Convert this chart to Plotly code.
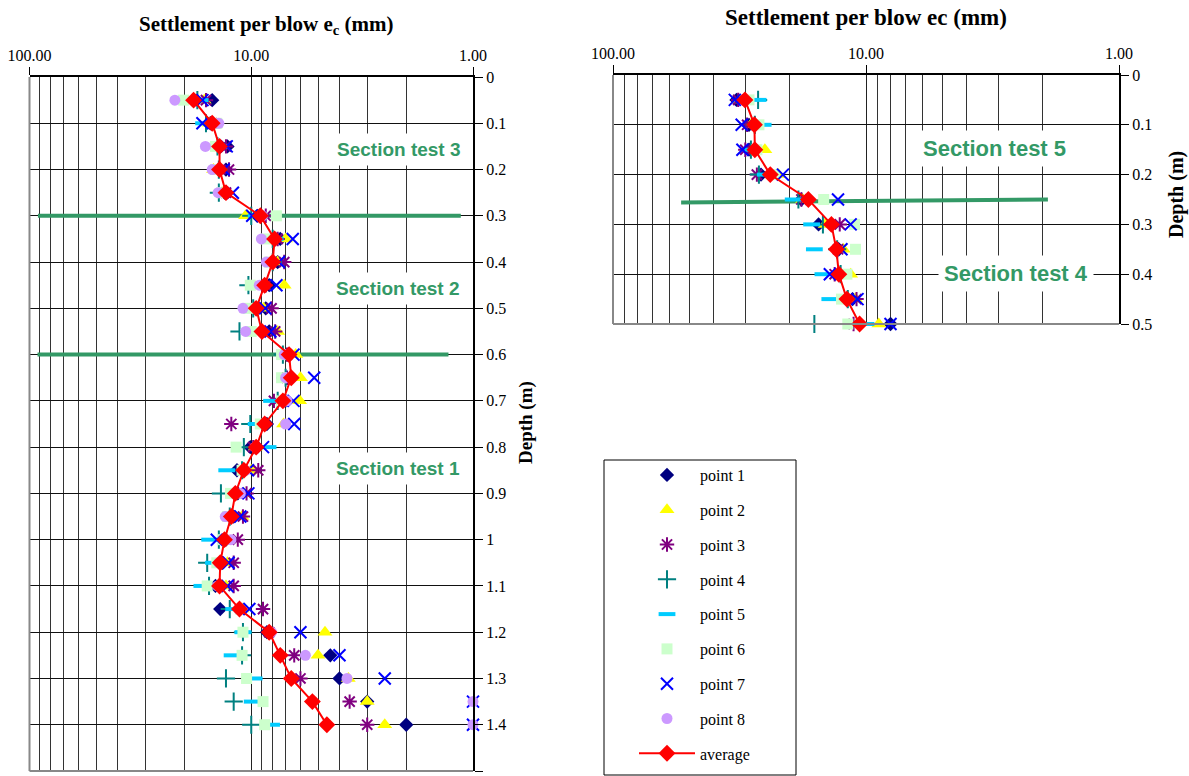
import plotly.graph_objects as go

W, H = 1189, 776

# ---------------- data ----------------
series_names = ["point 1", "point 2", "point 3", "point 4", "point 5", "point 6", "point 7", "point 8"]

depth_left = [0.05, 0.10, 0.15, 0.20, 0.25, 0.30, 0.35, 0.40, 0.45, 0.50, 0.55, 0.60, 0.65, 0.70,
              0.75, 0.80, 0.85, 0.90, 0.95, 1.00, 1.05, 1.10, 1.15, 1.20, 1.25, 1.30, 1.35, 1.40]

p1_left = [15.0, 15.3, 12.8, 13.0, 13.2, 9.4, 7.4, 7.6, 8.3, 8.6, 8.3, 6.8, 6.6, 7.0,
           8.5, 10.1, 11.6, 11.5, 12.0, 13.0, 13.5, 14.5, 13.8, 8.5, 4.4, 4.0, 3.0, 2.0]
p2_left = [16.3, 15.5, 14.0, 14.8, 13.5, 10.6, 7.0, 7.6, 7.1, 8.8, 7.6, 6.3, 6.0, 6.05,
           7.15, 9.6, 10.0, 10.8, 11.0, 13.2, 12.8, 13.0, 11.0, 4.65, 5.0, 3.65, 3.0, 2.5]
p3_left = [16.0, 15.0, 13.0, 12.6, 13.0, 8.6, 7.6, 7.1, 8.6, 8.1, 7.8, 6.9, 6.9, 7.9,
           12.3, 9.8, 9.3, 10.5, 10.9, 11.5, 12.0, 12.0, 8.85, 8.3, 6.4, 6.0, 3.6, 3.0]
p4_left = [17.5, 16.0, 14.2, 14.0, 14.0, 10.0, 8.0, 8.0, 10.3, 9.8, 11.3, 7.2, 7.0, 7.6,
           10.1, 10.8, 11.0, 13.7, 12.5, 14.0, 15.8, 15.5, 12.5, 10.9, 11.0, 13.0, 12.0, 10.0]
p5_left = [17.0, 16.4, 14.0, 14.2, 13.5, 9.5, 7.8, 8.0, 9.0, 9.6, 9.9, 6.9, 6.8, 8.1,
           9.5, 8.4, 12.9, 12.0, 12.5, 15.4, 14.8, 16.7, 12.0, 10.9, 12.2, 9.7, 9.9, 8.1]
p6_left = [20.2, 14.3, 14.5, 14.5, 13.6, 7.7, 8.6, 8.3, 10.1, 10.3, 10.0, 7.3, 7.3, 7.3,
           9.1, 11.7, 11.0, 12.4, 12.8, 13.5, 14.3, 15.8, 11.2, 10.9, 11.0, 10.5, 8.85, 8.7]
p7_left = [16.6, 16.6, 12.9, 13.3, 12.1, 9.9, 6.5, 7.5, 7.7, 8.65, 8.2, 6.45, 5.2, 6.45,
           6.4, 8.85, 10.35, 10.3, 11.2, 14.3, 12.65, 12.8, 10.2, 6.0, 4.0, 2.5, 1.0, 1.0]
p8_left = [22.1, 14.0, 16.1, 15.0, 14.1, 8.9, 9.0, 8.55, 9.2, 10.9, 10.6, 7.1, 7.0, 6.9,
           7.0, 9.6, 10.6, 11.2, 13.1, 12.35, 14.0, 14.2, 11.4, 8.1, 5.7, 3.7, 1.0, 1.0]
avg_left = [18.2, 15.0, 13.9, 13.9, 13.0, 9.1, 7.85, 8.0, 8.7, 9.5, 8.95, 6.75, 6.6, 7.2,
            8.7, 9.5, 10.8, 11.8, 12.3, 13.2, 13.8, 13.9, 11.3, 8.3, 7.4, 6.6, 5.3, 4.56]

depth_right = [0.05, 0.10, 0.15, 0.20, 0.25, 0.30, 0.35, 0.40, 0.45, 0.50]
p1_right = [32.5, 29.0, 29.0, 26.0, 18.0, 15.4, 12.8, 12.8, 11.3, 8.0]
p2_right = [31.5, 28.5, 25.1, 22.2, 17.8, 14.5, 12.3, 11.5, 11.0, 8.9]
p3_right = [32.0, 29.5, 30.0, 27.0, 18.0, 12.7, 12.9, 13.3, 10.9, 11.2]
p4_right = [26.7, 27.5, 28.5, 26.5, 18.5, 14.8, 13.0, 12.6, 11.8, 16.0]
p5_right = [26.7, 25.5, 28.0, 25.0, 19.4, 16.4, 16.0, 14.8, 13.9, 10.0]
p6_right = [29.0, 26.5, 27.0, 23.0, 14.7, 11.1, 11.0, 11.9, 12.5, 11.8]
p7_right = [33.0, 31.0, 30.8, 21.3, 12.9, 11.5, 12.5, 13.9, 10.8, 8.0]
avg_right = [30.1, 27.6, 27.5, 23.9, 16.9, 13.7, 13.1, 12.8, 11.9, 10.6]

x_tick_vals = [100, 10, 1]
x_tick_text = ["100.00", "10.00", "1.00"]
x_minor_vals = [90, 80, 70, 60, 50, 40, 30, 20, 9, 8, 7, 6, 5, 4, 3, 2]

# section boundary lines: (x start, x end) in mm, (depth start, depth end) in m
section_lines_left = [([91.6, 1.135], [0.30, 0.30]), ([92.0, 1.29], [0.60, 0.60])]
section_lines_right = [([53.8, 1.91], [0.256, 0.25])]

# ---------------- styles ----------------
GREEN = "#339966"
SERIF = "Liberation Serif"
SANS = "Liberation Sans"

marker_styles = [
    dict(symbol="diamond", color="#000080", size=11),
    dict(symbol="triangle-up", color="#FFFF00", size=13),
    dict(symbol="asterisk-open", color="#800080", size=12, line=dict(color="#800080", width=2)),
    dict(symbol="cross-thin-open", color="#008080", size=13, line=dict(color="#008080", width=2)),
    dict(symbol="line-ew-open", color="#00CCFF", size=12, line=dict(color="#00CCFF", width=4)),
    dict(symbol="square", color="#CCFFCC", size=11),
    dict(symbol="x-thin-open", color="#0000FF", size=12, line=dict(color="#0000FF", width=2)),
    dict(symbol="circle", color="#CC99FF", size=11),
]


def px(x):
    return x / W


def py(y):
    return 1 - y / H


fig = go.Figure()

# section boundaries first (below the markers)
for xs, ys in section_lines_left:
    fig.add_trace(go.Scatter(x=xs, y=ys, mode="lines", line=dict(color=GREEN, width=4),
                             showlegend=False, hoverinfo="skip", xaxis="x", yaxis="y"))
for xs, ys in section_lines_right:
    fig.add_trace(go.Scatter(x=xs, y=ys, mode="lines", line=dict(color=GREEN, width=4),
                             showlegend=False, hoverinfo="skip", xaxis="x2", yaxis="y2"))

left_series = [p1_left, p2_left, p3_left, p4_left, p5_left, p6_left, p7_left, p8_left]
right_series = [p1_right, p2_right, p3_right, p4_right, p5_right, p6_right, p7_right]

for i, (name, vals) in enumerate(zip(series_names, left_series)):
    fig.add_trace(go.Scatter(x=vals, y=depth_left, mode="markers", name=name,
                             legendgroup=name, marker=marker_styles[i],
                             xaxis="x", yaxis="y", cliponaxis=False, hoverinfo="skip"))
fig.add_trace(go.Scatter(x=avg_left, y=depth_left, mode="lines+markers", name="average",
                         legendgroup="average",
                         line=dict(color="#FF0000", width=2),
                         marker=dict(symbol="diamond", color="#FF0000", size=13),
                         xaxis="x", yaxis="y", cliponaxis=False, hoverinfo="skip"))

for i, (name, vals) in enumerate(zip(series_names, right_series)):
    fig.add_trace(go.Scatter(x=vals, y=depth_right, mode="markers", name=name,
                             legendgroup=name, showlegend=False, marker=marker_styles[i],
                             xaxis="x2", yaxis="y2", cliponaxis=False, hoverinfo="skip"))
fig.add_trace(go.Scatter(x=avg_right, y=depth_right, mode="lines+markers", name="average",
                         legendgroup="average", showlegend=False,
                         line=dict(color="#FF0000", width=2),
                         marker=dict(symbol="diamond", color="#FF0000", size=13),
                         xaxis="x2", yaxis="y2", cliponaxis=False, hoverinfo="skip"))

tickfont = dict(family=SERIF, size=16, color="black")


def xaxis_cfg(domain, anchor):
    return dict(domain=domain, anchor=anchor, type="log", range=[2, 0], side="top",
                tickmode="array", tickvals=x_tick_vals, ticktext=x_tick_text,
                ticks="outside", ticklen=8, tickcolor="black", tickwidth=1,
                showline=True, linecolor="black", linewidth=2,
                showgrid=True, gridcolor="#222222", gridwidth=1, zeroline=False,
                minor=dict(tickmode="array", tickvals=x_minor_vals, showgrid=True,
                           gridcolor="#333333", gridwidth=1, ticks=""),
                tickfont=tickfont)


def yaxis_cfg(domain, anchor, rng):
    return dict(domain=domain, anchor=anchor, range=rng, side="right",
                tickmode="linear", tick0=0, dtick=0.1,
                ticks="outside", ticklen=8, tickcolor="black", tickwidth=1,
                showline=True, linecolor="black", linewidth=2,
                showgrid=True, gridcolor="#111111", gridwidth=1, zeroline=False,
                tickfont=tickfont)


fig.update_layout(
    width=W, height=H, margin=dict(l=0, r=0, t=0, b=0, autoexpand=False),
    paper_bgcolor="white", plot_bgcolor="white",
    xaxis=xaxis_cfg([px(29.5), px(473)], "y"),
    yaxis=yaxis_cfg([py(771), py(77)], "x", [1.5, 0]),
    xaxis2=xaxis_cfg([px(613), px(1119)], "y2"),
    yaxis2=yaxis_cfg([py(324), py(75)], "x2", [0.5, 0]),
    showlegend=True,
    legend=dict(x=px(604), y=py(458), xanchor="left", yanchor="top",
                bgcolor="rgba(0,0,0,0)", borderwidth=0,
                font=dict(family=SERIF, size=16, color="black"),
                traceorder="grouped", tracegroupgap=11, itemwidth=56, indentation=30),
)

shapes = []
# grey left/bottom frame edges
for xr, yr in (("x domain", "y domain"), ("x2 domain", "y2 domain")):
    shapes.append(dict(type="line", xref=xr, yref=yr, x0=0, x1=0, y0=0, y1=1,
                       line=dict(color="#888888", width=2), layer="above"))
    shapes.append(dict(type="line", xref=xr, yref=yr, x0=0, x1=1, y0=0, y1=0,
                       line=dict(color="#888888", width=2), layer="above"))
# legend box
shapes.append(dict(type="rect", xref="paper", yref="paper", x0=px(604), x1=px(796),
                   y0=py(775), y1=py(460), line=dict(color="black", width=1), layer="above"))
fig.update_layout(shapes=shapes)

annotations = [
    dict(text="<b>Settlement per blow e<sub>c</sub> (mm)</b>", x=px(266), y=py(25),
         font=dict(family=SERIF, size=21, color="black")),
    dict(text="<b>Settlement per blow ec (mm)</b>", x=px(866), y=py(17),
         font=dict(family=SERIF, size=23, color="black")),
    dict(text="<b>Depth (m)</b>", x=px(526), y=py(423), textangle=-90,
         font=dict(family=SERIF, size=19, color="black")),
    dict(text="<b>Depth (m)</b>", x=px(1176), y=py(195), textangle=-90,
         font=dict(family=SERIF, size=20, color="black")),
]
section_labels = [("Section test 3", 399, 150, 19), ("Section test 2", 398, 288, 19),
                  ("Section test 1", 398, 469, 19), ("Section test 5", 994, 148, 22),
                  ("Section test 4", 1016, 273, 22)]
for txt, x, y, s in section_labels:
    annotations.append(dict(text="<b>" + txt + "</b>", x=px(x), y=py(y),
                            font=dict(family=SANS, size=s, color=GREEN),
                            bgcolor="white", borderpad=5))
for a in annotations:
    a.update(xref="paper", yref="paper", showarrow=False, xanchor="center", yanchor="middle")
fig.update_layout(annotations=annotations)

fig.write_html("out.html", config={"displayModeBar": False},
               post_script="document.body.style.margin='0';")
